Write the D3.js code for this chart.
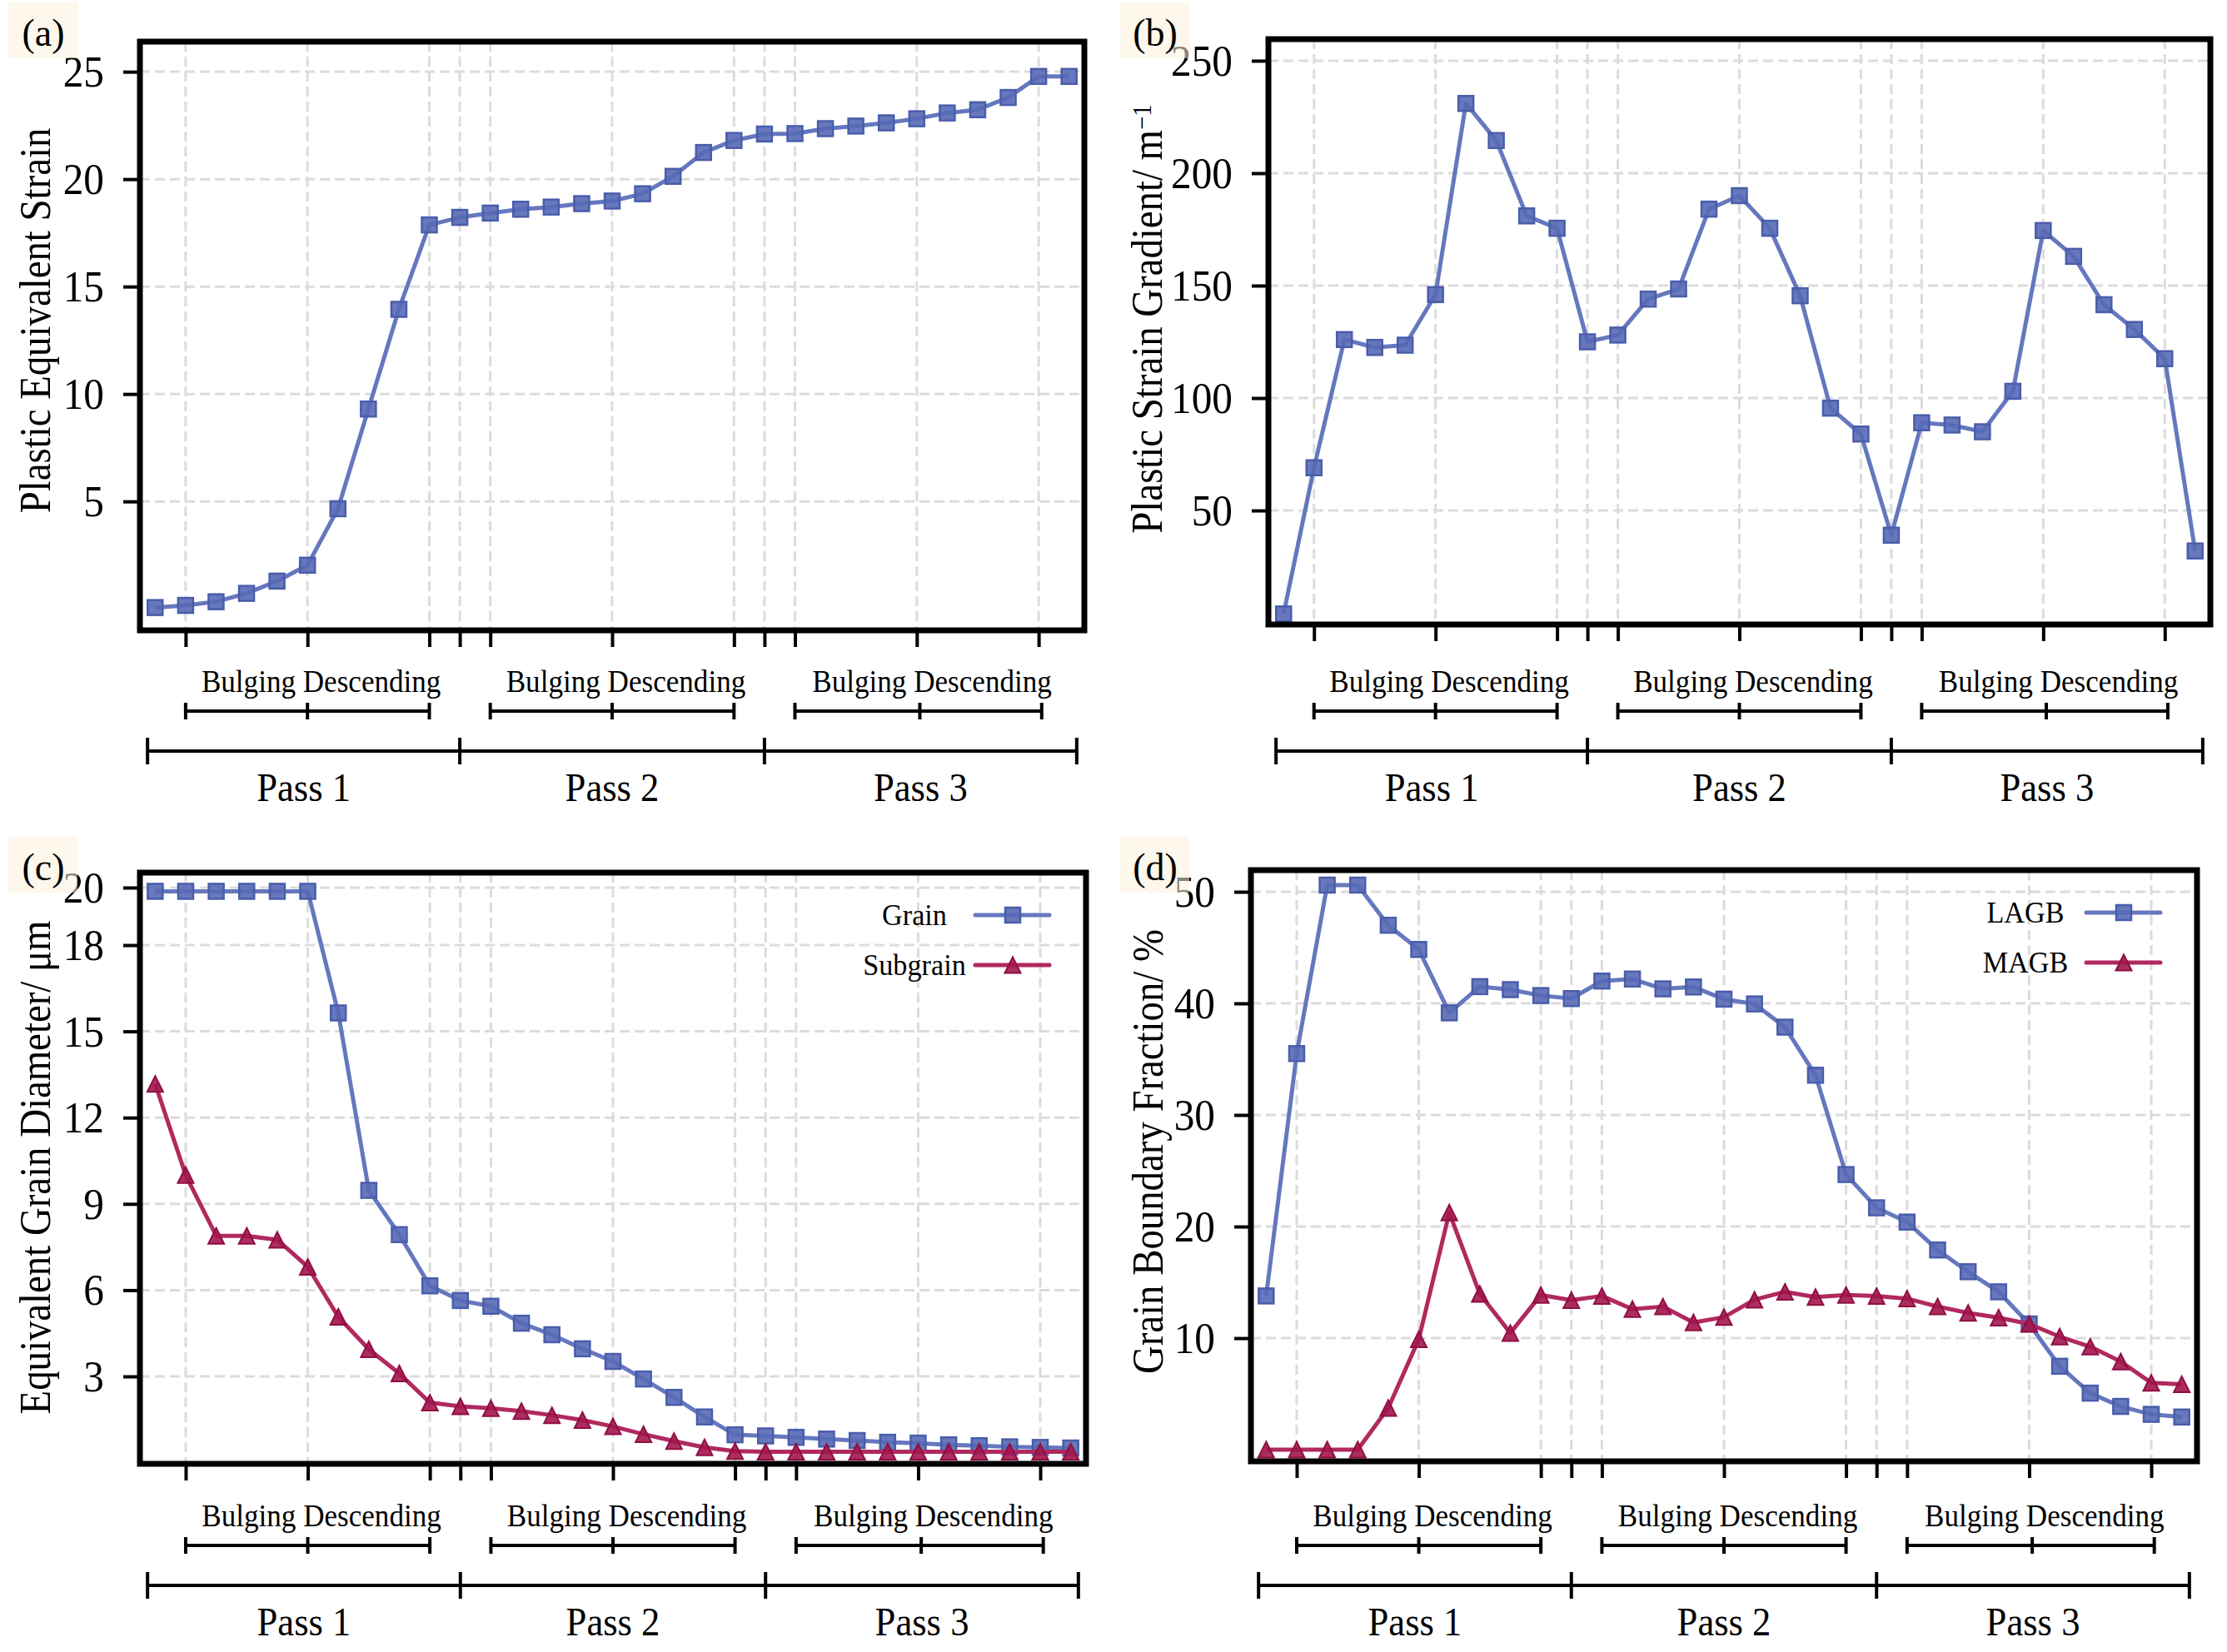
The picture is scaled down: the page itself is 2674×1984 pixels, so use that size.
<!DOCTYPE html>
<html>
<head>
<meta charset="utf-8">
<script src="https://cdn.jsdelivr.net/npm/d3@7"></script>
<style>
  body { margin: 0; background: #fff; }
  text { font-family: "Liberation Serif", "DejaVu Serif", serif; fill: #000; }
</style>
</head>
<body>
<div id="chart"></div>
<script>
// Step index along the process (31 sampling points)
const steps = d3.range(31);
const xTicks = [1, 5, 9, 10, 11, 15, 19, 20, 21, 25, 29];

// (a) plastic equivalent strain
const strain = [0.06, 0.16, 0.33, 0.72, 1.29, 2.03, 4.66, 9.3, 13.94, 17.87, 18.22,
  18.42, 18.6, 18.7, 18.86, 18.98, 19.32, 20.13, 21.24, 21.8, 22.1,
  22.12, 22.35, 22.47, 22.62, 22.81, 23.08, 23.23, 23.8, 24.78, 24.78];

// (b) plastic strain gradient
const gradient = [4, 69, 126, 122.5, 123.5, 146, 231, 214.5, 181, 175.5, 125,
  128, 144, 148.5, 184, 190, 175.5, 145.5, 95.5, 84, 39,
  89, 88, 85, 103, 174.5, 163, 141.5, 130.5, 117.5, 32];

// (c) equivalent grain diameter
const grain = [19.87, 19.87, 19.87, 19.87, 19.87, 19.87, 15.64, 9.47, 7.93, 6.15, 5.64,
  5.44, 4.85, 4.45, 3.96, 3.52, 2.91, 2.27, 1.59, 0.97, 0.93,
  0.88, 0.82, 0.77, 0.71, 0.68, 0.62, 0.59, 0.55, 0.53, 0.51];
const subgrain = [13.17, 10.0, 7.89, 7.89, 7.75, 6.81, 5.07, 3.94, 3.1, 2.09, 1.96,
  1.89, 1.79, 1.65, 1.48, 1.26, 0.99, 0.75, 0.53, 0.4, 0.38,
  0.38, 0.38, 0.38, 0.38, 0.38, 0.38, 0.38, 0.38, 0.38, 0.38];

// (d) grain boundary fraction
const lagb = [13.78, 35.5, 50.6, 50.6, 47.0, 44.83, 39.15, 41.5, 41.23, 40.7, 40.43,
  42.0, 42.18, 41.3, 41.47, 40.38, 39.95, 37.87, 33.56, 24.66, 21.68,
  20.4, 17.9, 15.95, 14.15, 11.27, 7.48, 5.07, 3.88, 3.17, 2.93];
const magb = [0, 0, 0, 0, 3.74, 9.9, 21.25, 13.96, 10.46, 13.87, 13.4,
  13.78, 12.6, 12.83, 11.4, 11.88, 13.44, 14.15, 13.68, 13.87, 13.78,
  13.54, 12.83, 12.26, 11.83, 11.27, 10.13, 9.23, 7.9, 6.0, 5.87];

// stage / pass annotations (in step units)
const stageEdges = [[1, 5, 9], [11, 15, 19], [21, 25.1, 29.1]];
const stageLabel = "Bulging Descending";
const passEdges = [-0.25, 10, 20, 30.25];
const passLabels = ["Pass 1", "Pass 2", "Pass 3"];

const blue = { line: "#6577be", fill: "#5669b5", edge: "#4a5dab" };
const red = { line: "#b0295f", fill: "#a3164f", edge: "#8f0f43" };

const panels = [
  { tag: "(a)", x0: 168, x1: 1302, y0: 50, y1: 757, ydom: [-1, 26.4], yticks: [5, 10, 15, 20, 25],
    ylabel: ["Plastic Equivalent Strain"], lx: 60, ly: 385, row: 0, box: [10, 3],
    series: [{ name: "", values: strain, c: blue, m: "square" }] },
  { tag: "(b)", x0: 1523, x1: 2654, y0: 47, y1: 750, ydom: [-0.7, 259.6], yticks: [50, 100, 150, 200, 250],
    ylabel: ["Plastic Strain Gradient/ m", "−1"], lx: 1395, ly: 383, row: 0, box: [1345, 3],
    series: [{ name: "", values: gradient, c: blue, m: "square" }] },
  { tag: "(c)", x0: 168, x1: 1304, y0: 1048, y1: 1758, ydom: [-0.04, 20.52], yticks: [3, 6, 9, 12, 15, 18, 20],
    ylabel: ["Equivalent Grain Diameter/ μm"], lx: 60, ly: 1402, row: 1, box: [10, 1005],
    series: [{ name: "Grain", values: grain, c: blue, m: "square" },
             { name: "Subgrain", values: subgrain, c: red, m: "tri" }] },
  { tag: "(d)", x0: 1502, x1: 2638, y0: 1045, y1: 1755, ydom: [-1.04, 51.94], yticks: [10, 20, 30, 40, 50],
    ylabel: ["Grain Boundary Fraction/ %"], lx: 1396, ly: 1383, row: 1, box: [1345, 1005],
    series: [{ name: "LAGB", values: lagb, c: blue, m: "square" },
             { name: "MAGB", values: magb, c: red, m: "tri" }] }
];

const W = 2674, H = 1984;
const svg = d3.select("#chart").append("svg")
  .attr("width", W).attr("height", H);

// text with a slightly narrow face
function label(g, x, y, s, size, anchor, squeeze, rot) {
  return g.append("text")
    .attr("transform", `translate(${x},${y})${rot ? " rotate(-90)" : ""} scale(${squeeze},1)`)
    .attr("font-size", size)
    .attr("text-anchor", anchor)
    .text(s);
}

function marker(g, kind, c, x, y) {
  if (kind === "square") {
    g.append("rect")
      .attr("x", x - 9).attr("y", y - 9).attr("width", 18).attr("height", 18)
      .attr("fill", c.fill).attr("fill-opacity", 0.9)
      .attr("stroke", c.edge).attr("stroke-width", 2.5);
  } else {
    const h = 19;
    g.append("path")
      .attr("d", `M${x},${y - h / 2}L${x + h / 2},${y + h / 2}L${x - h / 2},${y + h / 2}Z`)
      .attr("fill", c.fill).attr("fill-opacity", 0.9)
      .attr("stroke", c.edge).attr("stroke-width", 2);
  }
}

panels.forEach(p => {
  const g = svg.append("g");
  const x = d3.scaleLinear().domain([-0.5, 30.5]).range([p.x0, p.x1]);
  const y = d3.scaleLinear().domain(p.ydom).range([p.y1, p.y0]);

  // grid
  g.selectAll(".vg").data(xTicks).enter().append("line")
    .attr("x1", d => x(d)).attr("x2", d => x(d))
    .attr("y1", p.y0).attr("y2", p.y1)
    .attr("stroke", "#dcdcdc").attr("stroke-width", 3).attr("stroke-dasharray", "12,6");
  g.selectAll(".hg").data(p.yticks).enter().append("line")
    .attr("x1", p.x0).attr("x2", p.x1)
    .attr("y1", d => y(d)).attr("y2", d => y(d))
    .attr("stroke", "#dcdcdc").attr("stroke-width", 3).attr("stroke-dasharray", "12,6");

  // axes ticks via d3 axes
  const xAxis = g.append("g").attr("transform", `translate(0,${p.y1 + 3})`)
    .call(d3.axisBottom(x).tickValues(xTicks).tickSize(17).tickFormat(""));
  const yAxis = g.append("g").attr("transform", `translate(${p.x0 - 3},0)`)
    .call(d3.axisLeft(y).tickValues(p.yticks).tickSize(17).tickFormat(""));
  [xAxis, yAxis].forEach(a => {
    a.select(".domain").remove();
    a.selectAll(".tick line").attr("stroke", "#000").attr("stroke-width", 4);
  });
  p.yticks.forEach(t => {
    label(g, p.x0 - 43, y(t), t, 53, "end", 0.93).attr("dy", "0.34em");
  });

  // series
  p.series.forEach(s => {
    const line = d3.line().x((d, i) => x(steps[i])).y(d => y(d));
    g.append("path").datum(s.values)
      .attr("d", line)
      .attr("fill", "none").attr("stroke", s.c.line)
      .attr("stroke-width", 5).attr("stroke-linejoin", "round");
    const mg = g.append("g");
    s.values.forEach((v, i) => marker(mg, s.m, s.c, x(steps[i]), y(v)));
  });

  // frame
  g.append("rect")
    .attr("x", p.x0).attr("y", p.y0)
    .attr("width", p.x1 - p.x0).attr("height", p.y1 - p.y0)
    .attr("fill", "none").attr("stroke", "#000").attr("stroke-width", 7);

  // legend
  const named = p.series.filter(s => s.name);
  named.forEach((s, k) => {
    const ly = p.y0 + 51 + k * 60;
    g.append("line")
      .attr("x1", p.x1 - 133).attr("x2", p.x1 - 44)
      .attr("y1", ly).attr("y2", ly)
      .attr("stroke", s.c.line).attr("stroke-width", 5).attr("stroke-linecap", "round");
    marker(g, s.m, s.c, p.x1 - 88, ly);
    label(g, p.x1 - 206, ly, s.name, 36, "middle", 0.95).attr("dy", "0.34em");
  });

  // y label
  const yl = label(g, p.lx, p.ly, "", 52, "middle", 0.9, true);
  yl.append("tspan").text(p.ylabel[0]);
  if (p.ylabel[1]) {
    yl.append("tspan").attr("dy", "-0.42em").attr("font-size", 32).text(p.ylabel[1]);
  }

  // stage and pass brackets
  const off = p.row === 0 ? 0 : 1002;
  const stTextY = 831 + off, stLineY = 854 + off, psLineY = 902 + off, psTextY = 962 + off;
  const ann = g.append("g").attr("stroke", "#000").attr("stroke-width", 4);
  stageEdges.forEach(e => {
    ann.append("line").attr("x1", x(e[0])).attr("x2", x(e[2]))
      .attr("y1", stLineY).attr("y2", stLineY);
    e.forEach(v => ann.append("line").attr("x1", x(v)).attr("x2", x(v))
      .attr("y1", stLineY - 10).attr("y2", stLineY + 10));
    label(g, x((e[0] + e[2]) / 2 + 0.45), stTextY, stageLabel, 39, "middle", 0.9);
  });
  ann.append("line").attr("x1", x(passEdges[0])).attr("x2", x(passEdges[passEdges.length - 1]))
    .attr("y1", psLineY).attr("y2", psLineY);
  passEdges.forEach(v => ann.append("line").attr("x1", x(v)).attr("x2", x(v))
    .attr("y1", psLineY - 16).attr("y2", psLineY + 16));
  passLabels.forEach((s, k) => {
    label(g, x((passEdges[k] + passEdges[k + 1]) / 2), psTextY, s, 48, "middle", 0.93);
  });

  // panel tag
  g.append("rect").attr("x", p.box[0]).attr("y", p.box[1])
    .attr("width", 83).attr("height", 67)
    .attr("fill", "#fbf0dc").attr("fill-opacity", 0.55);
  label(g, p.box[0] + 42, p.box[1] + 52, p.tag, 46, "middle", 1);
});
</script>
</body>
</html>
